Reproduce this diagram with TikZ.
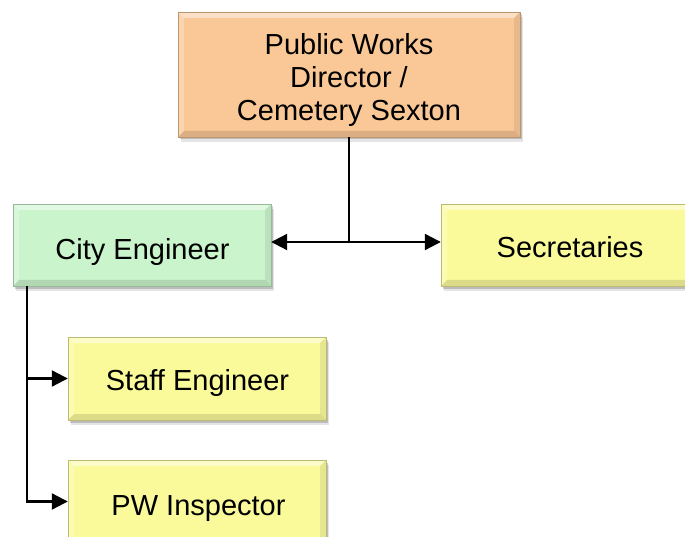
\documentclass[tikz,border=0pt]{standalone}
\usepackage{fontspec}
\setmainfont{Liberation Sans}
\usetikzlibrary{arrows.meta,shadows}
\definecolor{peach}{RGB}{250,200,150}
\definecolor{mint}{RGB}{202,245,204}
\definecolor{paleyellow}{RGB}{250,250,155}
\tikzset{
  bevel/.style={
    path picture={
      \fill[white,opacity=0.45] (path picture bounding box.north west) -- (path picture bounding box.north east)
        -- ([shift={(-6pt,-6pt)}]path picture bounding box.north east) -- ([shift={(6pt,-6pt)}]path picture bounding box.north west) -- cycle;
      \fill[white,opacity=0.25] (path picture bounding box.north west) -- ([shift={(6pt,-6pt)}]path picture bounding box.north west)
        -- ([shift={(6pt,6pt)}]path picture bounding box.south west) -- (path picture bounding box.south west) -- cycle;
      \fill[black,opacity=0.12] (path picture bounding box.south west) -- (path picture bounding box.south east)
        -- ([shift={(-6pt,6pt)}]path picture bounding box.south east) -- ([shift={(6pt,6pt)}]path picture bounding box.south west) -- cycle;
      \fill[black,opacity=0.08] (path picture bounding box.north east) -- ([shift={(-6pt,-6pt)}]path picture bounding box.north east)
        -- ([shift={(-6pt,6pt)}]path picture bounding box.south east) -- (path picture bounding box.south east) -- cycle;
    }},
  box/.style={draw=#1!75!black, line width=0.4pt, fill=#1, bevel,
    drop shadow={shadow xshift=1.5pt, shadow yshift=-2.5pt, opacity=0.18, fill=black},
    drop shadow={shadow xshift=3pt, shadow yshift=-5pt, opacity=0.10, fill=black},
    inner sep=0pt},
  boxtext/.style={align=center, inner sep=0pt, text=black,
    font=\fontsize{29}{33}\selectfont},
  linetext/.style={boxtext, anchor=base},
  link/.style={line width=2.2pt, draw=black},
  arrowlink/.style={link, -{Triangle[length=16pt,width=16pt]}},
}
\begin{document}
\begin{tikzpicture}[x=1pt,y=-1pt]
  \useasboundingbox (0,0) rectangle (685,537);
  % boxes
  \node[box=peach, minimum width=342pt, minimum height=125pt] (pwd) at (349,74.5) {};
  \node[box=mint, minimum width=258pt, minimum height=82pt] (ce) at (142,245) {};
  \node[box=paleyellow, minimum width=258pt, minimum height=82pt] (sec) at (570,245) {};
  \node[box=paleyellow, minimum width=258pt, minimum height=83pt] (se) at (197,378.5) {};
  \node[box=paleyellow, minimum width=258pt, minimum height=83pt] (pwi) at (197,501.5) {};
  % box texts, each set on its own baseline
  \node[boxtext] (pwd-t) at ([yshift=-6pt]pwd.center) {Public Works\\Director /\\Cemetery Sexton};
  \node[linetext] (ce-t) at (142.5,260) {City Engineer};
  \node[linetext] (sec-t) at (570,257.5) {Secretaries};
  \node[linetext] (se-t) at (197.5,390.5) {Staff Engineer};
  \node[linetext] (pwi-t) at (198.5,515) {PW Inspector};
  % connectors
  \coordinate (j) at (349,242);
  \coordinate (t) at ([xshift=14pt]ce.south west);
  \draw[link] (pwd.south) -- (j);
  \draw[arrowlink] (j) -- (j -| ce.east);
  \draw[arrowlink] (j) -- (j -| sec.west);
  \draw[arrowlink] (t) |- (se.west);
  \draw[arrowlink] (t) |- (pwi.west);
\end{tikzpicture}
\end{document}
